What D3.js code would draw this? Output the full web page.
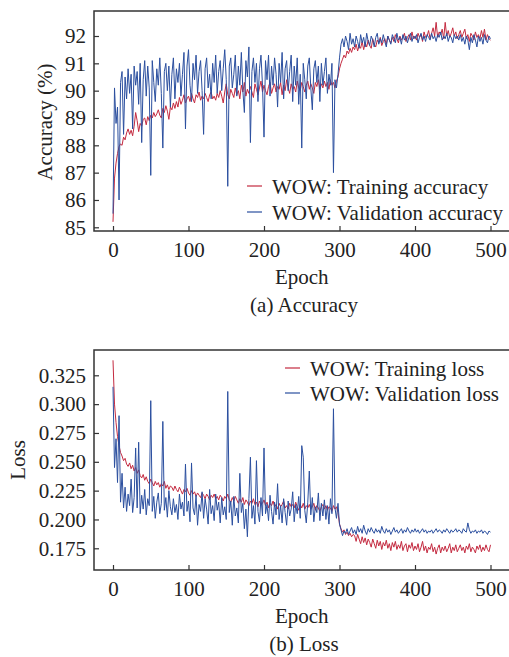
<!DOCTYPE html>
<html><head><meta charset="utf-8">
<script src="https://cdn.jsdelivr.net/npm/d3@7"></script>
<style>
body{margin:0;background:#fff}
svg{display:block}
text{font-family:"Liberation Serif","Times New Roman",serif;fill:#222}
</style>
</head><body>
<svg id="c" width="509" height="657"></svg>
<script>
// ---------- data ----------
const epochs = d3.range(0, 501, 2);
const epochTicks = [0, 100, 200, 300, 400, 500];
const accTicks = [85, 86, 87, 88, 89, 90, 91, 92];
const lossTicks = [0.175, 0.200, 0.225, 0.250, 0.275, 0.300, 0.325];

const trainAcc = [
85.20,86.80,87.35,87.70,87.95,88.05,88.00,88.30,88.20,88.45,
88.60,88.40,88.55,88.35,88.70,89.20,88.90,88.50,88.80,88.70,
88.95,89.00,88.75,89.05,88.90,89.10,89.00,89.20,89.05,89.15,
89.30,89.10,89.00,89.35,89.20,89.45,89.25,88.95,89.40,89.30,
89.55,89.35,89.60,89.40,89.75,89.50,89.65,89.85,89.55,89.70,
89.80,89.60,89.90,89.70,89.55,89.85,89.75,89.95,89.65,89.80,
89.70,89.90,89.75,89.60,89.85,89.95,89.70,89.80,89.65,89.90,
89.75,90.00,89.80,89.55,89.95,90.25,89.85,89.70,90.05,89.90,
89.75,90.10,89.85,90.00,89.70,90.20,89.95,90.30,89.80,90.05,
89.90,90.15,89.95,89.75,90.25,90.05,89.85,90.10,90.35,89.95,
90.20,90.00,89.85,90.15,90.30,89.90,90.10,90.25,89.95,90.15,
90.05,90.30,89.85,90.20,90.00,90.40,90.10,89.90,90.25,90.05,
90.15,89.95,90.35,90.10,90.00,90.30,90.15,89.95,90.20,90.35,
90.05,90.25,90.10,89.90,90.30,90.15,90.40,90.05,90.25,90.10,
90.35,90.15,90.30,90.05,90.40,90.20,90.30,90.10,90.35,90.50,
90.80,91.00,91.15,91.30,91.20,91.45,91.35,91.55,91.40,91.60,
91.50,91.70,91.45,91.65,91.55,91.80,91.50,91.75,91.60,91.85,
91.65,91.55,91.90,91.70,91.60,91.85,91.75,91.95,91.65,91.80,
91.90,91.70,92.00,91.85,91.75,91.95,91.80,92.05,91.90,91.75,
92.00,91.85,91.95,92.10,91.80,91.95,92.05,91.85,92.15,91.90,
92.00,91.85,92.10,91.95,92.05,91.80,92.15,91.95,92.00,92.20,
91.90,92.10,92.30,92.00,92.50,91.95,92.15,92.05,92.25,91.90,
92.50,92.00,92.20,91.95,92.10,92.30,92.00,92.15,91.90,92.05,
92.20,91.95,92.10,92.25,91.90,92.05,91.80,92.10,92.00,91.85,
92.15,91.95,92.05,91.90,92.20,91.95,92.25,91.85,92.05,91.90,91.85
];
const valAcc = [
85.50,90.10,88.80,89.40,86.00,90.30,90.70,88.40,90.50,89.70,
90.80,89.90,90.60,88.60,90.90,90.20,90.70,89.50,91.00,88.10,
90.40,91.10,89.80,90.90,90.10,86.90,91.10,90.30,89.60,90.80,
90.20,91.20,89.90,87.90,90.70,91.00,90.00,90.90,89.40,90.60,
91.20,89.70,90.80,90.30,91.00,89.80,90.60,91.40,88.60,90.90,
91.50,90.20,89.60,91.00,90.40,91.30,89.90,90.70,91.10,90.00,
88.40,90.80,91.20,90.10,90.60,89.70,91.00,90.30,91.30,89.90,
90.70,91.10,90.00,90.80,91.50,90.40,86.50,90.90,91.20,90.10,
90.60,91.30,89.80,90.90,90.20,91.40,90.00,89.20,91.10,90.50,
91.60,88.10,90.70,91.20,90.30,91.00,89.60,90.80,91.30,90.20,
88.30,91.10,90.40,91.30,89.80,90.90,90.20,91.20,90.60,89.40,
91.00,90.30,91.40,89.70,90.80,91.10,90.00,90.70,91.30,89.60,
90.90,90.20,91.20,89.50,90.60,87.90,91.00,90.40,89.70,90.90,
91.20,90.10,89.30,90.80,91.10,90.30,90.90,89.60,91.00,90.20,
90.70,91.20,89.90,90.60,90.20,91.00,87.00,90.40,90.10,90.60,
91.20,91.70,91.90,91.60,92.00,91.80,91.50,92.10,91.70,91.90,
91.60,92.00,91.80,91.55,92.05,91.75,91.95,91.60,92.10,91.80,
91.65,92.00,91.85,91.60,91.95,92.10,91.70,91.90,91.75,92.05,
91.80,91.60,92.00,91.85,91.70,92.05,91.90,91.75,92.10,91.85,
91.95,91.70,92.05,91.85,92.00,91.75,91.95,92.10,91.80,92.00,
91.90,92.05,91.75,91.95,92.10,91.85,92.00,91.80,92.05,91.95,
91.85,92.10,91.90,92.00,91.80,92.05,91.95,92.15,91.85,92.00,
91.90,92.10,91.80,92.00,91.95,91.75,92.05,91.90,92.00,91.85,
92.05,91.80,91.95,91.70,92.00,91.85,91.50,91.95,91.75,92.05,
91.85,91.60,92.00,91.80,91.95,91.70,92.05,91.85,91.75,92.00,91.90
];
const trainLoss = [
0.338,0.300,0.284,0.272,0.264,0.258,0.255,0.251,0.253,0.248,
0.246,0.249,0.244,0.247,0.242,0.245,0.240,0.243,0.238,0.236,
0.239,0.234,0.237,0.233,0.231,0.235,0.232,0.229,0.233,0.230,
0.232,0.228,0.231,0.229,0.233,0.227,0.230,0.226,0.229,0.228,
0.225,0.229,0.226,0.224,0.228,0.225,0.222,0.226,0.224,0.227,
0.223,0.221,0.225,0.222,0.224,0.220,0.223,0.221,0.219,0.223,
0.221,0.218,0.222,0.220,0.217,0.221,0.219,0.222,0.218,0.220,
0.217,0.221,0.219,0.216,0.220,0.218,0.222,0.217,0.215,0.219,
0.216,0.220,0.217,0.214,0.218,0.215,0.219,0.213,0.217,0.215,
0.212,0.216,0.214,0.218,0.213,0.215,0.211,0.216,0.213,0.214,
0.217,0.212,0.215,0.210,0.214,0.212,0.216,0.211,0.213,0.209,
0.214,0.211,0.213,0.216,0.210,0.212,0.209,0.214,0.211,0.213,
0.210,0.215,0.211,0.208,0.213,0.210,0.214,0.209,0.212,0.210,
0.213,0.209,0.211,0.214,0.208,0.212,0.210,0.207,0.211,0.213,
0.209,0.212,0.208,0.211,0.210,0.207,0.212,0.209,0.211,0.206,
0.196,0.192,0.189,0.191,0.187,0.189,0.186,0.188,0.185,0.187,
0.186,0.181,0.187,0.183,0.179,0.185,0.180,0.184,0.178,0.183,
0.180,0.176,0.183,0.179,0.175,0.182,0.177,0.181,0.174,0.180,
0.177,0.182,0.175,0.179,0.173,0.180,0.176,0.181,0.174,0.178,
0.175,0.181,0.173,0.177,0.179,0.172,0.178,0.175,0.180,0.173,
0.177,0.174,0.179,0.172,0.176,0.181,0.173,0.177,0.171,0.176,
0.174,0.179,0.172,0.176,0.170,0.175,0.178,0.171,0.176,0.173,
0.177,0.172,0.175,0.179,0.171,0.176,0.173,0.178,0.172,0.175,
0.178,0.173,0.176,0.171,0.177,0.174,0.179,0.172,0.176,0.174,
0.171,0.177,0.174,0.178,0.172,0.176,0.173,0.178,0.174,0.172,0.178
];
const valLoss = [
0.315,0.245,0.270,0.232,0.290,0.215,0.240,0.210,0.228,0.207,
0.222,0.212,0.235,0.206,0.219,0.262,0.210,0.267,0.205,0.221,
0.209,0.226,0.204,0.218,0.212,0.303,0.207,0.220,0.201,0.215,
0.223,0.205,0.214,0.285,0.208,0.219,0.202,0.225,0.211,0.204,
0.218,0.206,0.213,0.200,0.222,0.209,0.215,0.203,0.248,0.207,
0.216,0.198,0.249,0.210,0.204,0.221,0.195,0.213,0.207,0.224,
0.201,0.218,0.209,0.196,0.226,0.205,0.212,0.199,0.222,0.208,
0.215,0.197,0.219,0.204,0.211,0.200,0.311,0.206,0.216,0.195,
0.220,0.203,0.210,0.197,0.240,0.206,0.214,0.192,0.209,0.185,
0.218,0.254,0.201,0.212,0.196,0.251,0.207,0.198,0.219,0.203,
0.262,0.205,0.213,0.199,0.221,0.207,0.196,0.215,0.204,0.231,
0.200,0.212,0.197,0.218,0.206,0.195,0.216,0.203,0.209,0.224,
0.198,0.213,0.205,0.220,0.201,0.264,0.254,0.208,0.197,0.215,
0.242,0.204,0.219,0.198,0.211,0.206,0.223,0.199,0.214,0.203,
0.217,0.200,0.212,0.196,0.218,0.205,0.296,0.210,0.201,0.214,
0.196,0.191,0.186,0.190,0.188,0.192,0.187,0.190,0.193,0.188,
0.191,0.187,0.194,0.189,0.192,0.188,0.195,0.190,0.187,0.192,
0.189,0.193,0.190,0.188,0.192,0.189,0.191,0.188,0.194,0.190,
0.188,0.192,0.189,0.191,0.187,0.190,0.193,0.189,0.191,0.188,
0.190,0.192,0.188,0.191,0.189,0.193,0.190,0.188,0.191,0.189,
0.192,0.189,0.191,0.188,0.190,0.192,0.189,0.191,0.188,0.190,
0.189,0.191,0.188,0.190,0.192,0.189,0.191,0.190,0.188,0.191,
0.189,0.192,0.190,0.188,0.191,0.189,0.190,0.192,0.189,0.191,
0.190,0.188,0.192,0.190,0.189,0.197,0.191,0.188,0.190,0.189,
0.191,0.188,0.190,0.189,0.191,0.188,0.190,0.189,0.187,0.190,0.189
];

// ---------- drawing ----------
const RED = "#c42a40", BLUE = "#2b4f9f", FRAME = "#333";
const svg = d3.select("#c");
const FS = 21;

function panel(o) {
  const g = svg.append("g");
  const x = d3.scaleLinear().domain([0, 500]).range([113, 490.5]);
  const y = d3.scaleLinear().domain(o.yDomain).range(o.yRange);
  const L = 94, R = 520, T = o.top, B = o.bottom;
  const cid = "clip" + o.id;
  svg.append("clipPath").attr("id", cid).append("rect")
    .attr("x", L).attr("y", T).attr("width", R - L).attr("height", B - T);

  const line = d3.line().x((d, i) => x(epochs[i])).y(d => y(d));
  o.series.forEach(s => {
    g.append("path").datum(s.values)
      .attr("clip-path", `url(#${cid})`)
      .attr("fill", "none").attr("stroke", s.color)
      .attr("stroke-width", 1).attr("stroke-linejoin", "round")
      .attr("d", line);
  });

  // frame
  g.append("path").attr("fill", "none").attr("stroke", FRAME).attr("stroke-width", 1.5)
    .attr("d", `M${R},${T}H${L}V${B}H${R}`);

  const xa = g.append("g").attr("transform", `translate(0,${B})`)
    .call(d3.axisBottom(x).tickValues(epochTicks).tickFormat(d3.format("d"))
      .tickSizeInner(-5).tickSizeOuter(0).tickPadding(11));
  const ya = g.append("g").attr("transform", `translate(${L},0)`)
    .call(d3.axisLeft(y).tickValues(o.ticks).tickFormat(o.fmt)
      .tickSizeInner(-5).tickSizeOuter(0).tickPadding(8));
  [xa, ya].forEach(a => {
    a.select(".domain").remove();
    a.selectAll("line").attr("stroke", FRAME).attr("stroke-width", 1.2);
    a.selectAll("text").attr("font-size", FS).attr("font-family", "Liberation Serif").attr("fill", "#222");
  });

  g.append("text").attr("x", 301.75).attr("y", B + 53).attr("text-anchor", "middle")
    .attr("font-size", FS).text("Epoch");
  g.append("text").attr("x", 304).attr("y", B + 81).attr("text-anchor", "middle")
    .attr("font-size", FS).text(o.caption);
  g.append("text").attr("transform", `translate(${o.ylabX},${o.ylabY}) rotate(-90)`)
    .attr("text-anchor", "middle").attr("font-size", FS).text(o.ylabel);

  // legend
  o.series.forEach((s, i) => {
    const ly = o.legY[i];
    g.append("line").attr("x1", o.legX).attr("x2", o.legX + 15)
      .attr("y1", ly).attr("y2", ly).attr("stroke", s.color).attr("stroke-width", 1.2);
    g.append("text").attr("x", o.legX + 25).attr("y", ly + 8)
      .attr("font-size", FS).text(s.name);
  });
}

panel({
  id: "a", top: 11, bottom: 231,
  yDomain: [85, 92], yRange: [227.3, 36], ticks: accTicks, fmt: d3.format("d"),
  caption: "(a) Accuracy", ylabel: "Accuracy (%)", ylabX: 52, ylabY: 122,
  legX: 247, legY: [186, 212],
  series: [
    { name: "WOW: Training accuracy", color: RED, values: trainAcc },
    { name: "WOW: Validation accuracy", color: BLUE, values: valAcc }
  ]
});

panel({
  id: "b", top: 350, bottom: 570,
  yDomain: [0.175, 0.325], yRange: [548.3, 375.3], ticks: lossTicks, fmt: d3.format(".3f"),
  caption: "(b) Loss", ylabel: "Loss", ylabX: 25, ylabY: 460,
  legX: 285, legY: [368, 393],
  series: [
    { name: "WOW: Training loss", color: RED, values: trainLoss },
    { name: "WOW: Validation loss", color: BLUE, values: valLoss }
  ]
});
</script>
</body></html>
